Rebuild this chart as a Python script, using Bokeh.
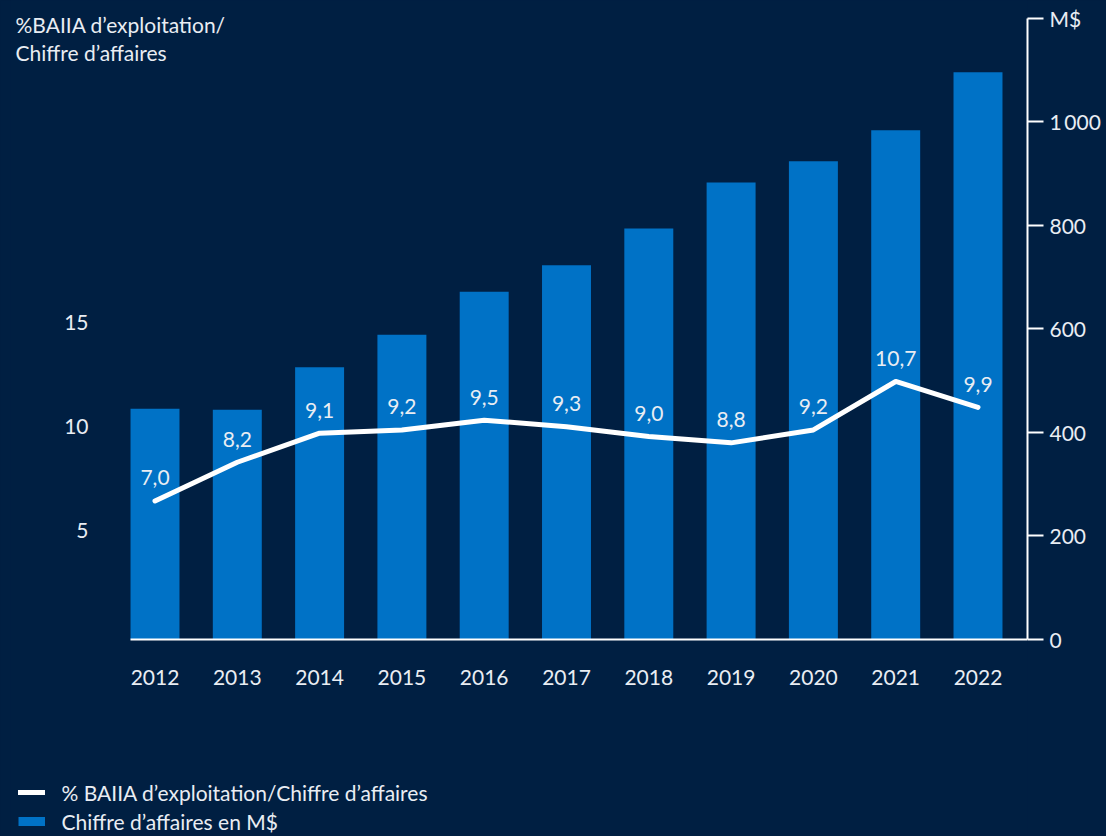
from bokeh.plotting import figure
from bokeh.models import (Range1d, LinearAxis, FixedTicker, Legend, LegendItem,
                          Label)
from bokeh.embed import file_html
from bokeh.resources import INLINE
from bokeh.core.properties import value

# ---------------- data ----------------
years = [2012, 2013, 2014, 2015, 2016, 2017, 2018, 2019, 2020, 2021, 2022]
revenue = [446, 444, 526, 589, 672, 723, 794, 883, 924, 984, 1096]   # M$
margin_pct = [7.0, 8.2, 9.1, 9.2, 9.5, 9.3, 9.0, 8.8, 9.2, 10.7, 9.9]
margin_labels = [f"{v:.1f}".replace(".", ",") for v in margin_pct]
rev_ticks = [0, 200, 400, 600, 800, 1000, 1200]
rev_tick_labels = {1000: "1\u2009000", 1200: "M$"}
pct_ticks = [5, 10, 15]
title_lines = ["%BAIIA d\u2019exploitation/", "Chiffre d\u2019affaires"]
legend_labels = ["% BAIIA d\u2019exploitation/Chiffre d\u2019affaires",
                 "Chiffre d\u2019affaires en M$"]

# ---------------- style ----------------
BG = "#001f42"
BLUE = "#0072c6"
TXT = "#e9edf3"
FONT = "Lato"
FS = "21px"

# the plotting frame spans (almost) the whole canvas so that the title and the
# legend, drawn inside it, are not clipped; axes are pinned with fixed_location
p = figure(width=1106, height=836, output_backend="svg", toolbar_location=None,
           x_range=Range1d(2010.2442, 2022.6015),
           y_range=Range1d(-380.68, 1234.78),
           y_axis_location=None, x_axis_location="above",
           min_border_left=10, min_border_right=79,
           min_border_top=0, min_border_bottom=0,
           background_fill_color=BG, border_fill_color=BG,
           outline_line_color=None)
p.extra_y_ranges = {"pct_axis": Range1d(-9.740, 30.510),
                    "line": Range1d(-3.387, 22.495)}
p.grid.visible = False

# x axis: baseline at revenue 0, labels below it
xa = p.xaxis[0]
xa.fixed_location = 0
xa.bounds = (2011.702, 2022.6015)
xa.ticker = FixedTicker(ticks=years)
xa.axis_line_color = "white"
xa.axis_line_width = 2
xa.major_tick_line_color = None
xa.major_tick_out = 0
xa.major_tick_in = 0
xa.minor_tick_line_color = None
xa.major_label_standoff = -46
xa.major_label_text_font = FONT
xa.major_label_text_font_size = FS
xa.major_label_text_color = TXT

# right axis (M$)
ra = LinearAxis(ticker=FixedTicker(ticks=rev_ticks), bounds=(0, 1200),
                major_label_overrides=rev_tick_labels)
ra.axis_line_color = "white"
ra.axis_line_width = 2
ra.major_tick_line_color = "white"
ra.major_tick_line_width = 2
ra.major_tick_out = 16
ra.major_tick_in = 0
ra.minor_tick_line_color = None
ra.major_label_standoff = 6
ra.major_label_text_font = FONT
ra.major_label_text_font_size = FS
ra.major_label_text_color = TXT
p.add_layout(ra, "right")

# left axis (%), no line, labels only
la = LinearAxis(y_range_name="pct_axis", ticker=FixedTicker(ticks=pct_ticks),
                fixed_location=2010.949)
la.axis_line_color = None
la.major_tick_line_color = None
la.major_tick_out = 0
la.major_tick_in = 0
la.minor_tick_line_color = None
la.major_label_standoff = -20
la.major_label_text_font = FONT
la.major_label_text_font_size = FS
la.major_label_text_color = TXT
p.add_layout(la, "left")

# bars
bars = p.vbar(x=years, top=revenue, bottom=0, width=0.595,
              fill_color=BLUE, line_color=None)

# line
line_r = p.line(years, margin_pct, y_range_name="line", line_color="white",
                line_width=5, line_cap="round", line_join="round")

# value labels
p.text(x=years, y=margin_pct, text=margin_labels, y_range_name="line",
       y_offset=-23, text_align="center", text_baseline="middle",
       text_font=value(FONT), text_font_size=FS, text_color=TXT)

# title (two lines, top-left)
for t, yy in zip(title_lines, [812, 784]):
    p.add_layout(Label(x=5, y=yy, x_units="screen", y_units="screen",
                       text=t, text_align="left", text_baseline="middle",
                       text_font=FONT, text_font_size=FS, text_color=TXT))

# legend: the revenue swatch is a hidden thick line over the revenue data
swatch = p.line(years, revenue, line_color=BLUE, line_width=9,
                line_cap="butt", visible=False)
legend = Legend(items=[LegendItem(label=legend_labels[0], renderers=[line_r]),
                       LegendItem(label=legend_labels[1], renderers=[swatch])],
                location=(7.5, 2), orientation="vertical",
                background_fill_alpha=0, border_line_alpha=0,
                inactive_fill_alpha=0,
                padding=0, margin=0, spacing=3,
                glyph_width=27, glyph_height=26, label_height=26,
                label_standoff=17, label_text_font=FONT,
                label_text_font_size=FS, label_text_color=TXT)
p.add_layout(legend, "center")

html = file_html(p, INLINE)
html = html.replace("</head>",
                    "<style>html,body{background-color:%s;}</style></head>" % BG, 1)
open("out.html", "w").write(html)
